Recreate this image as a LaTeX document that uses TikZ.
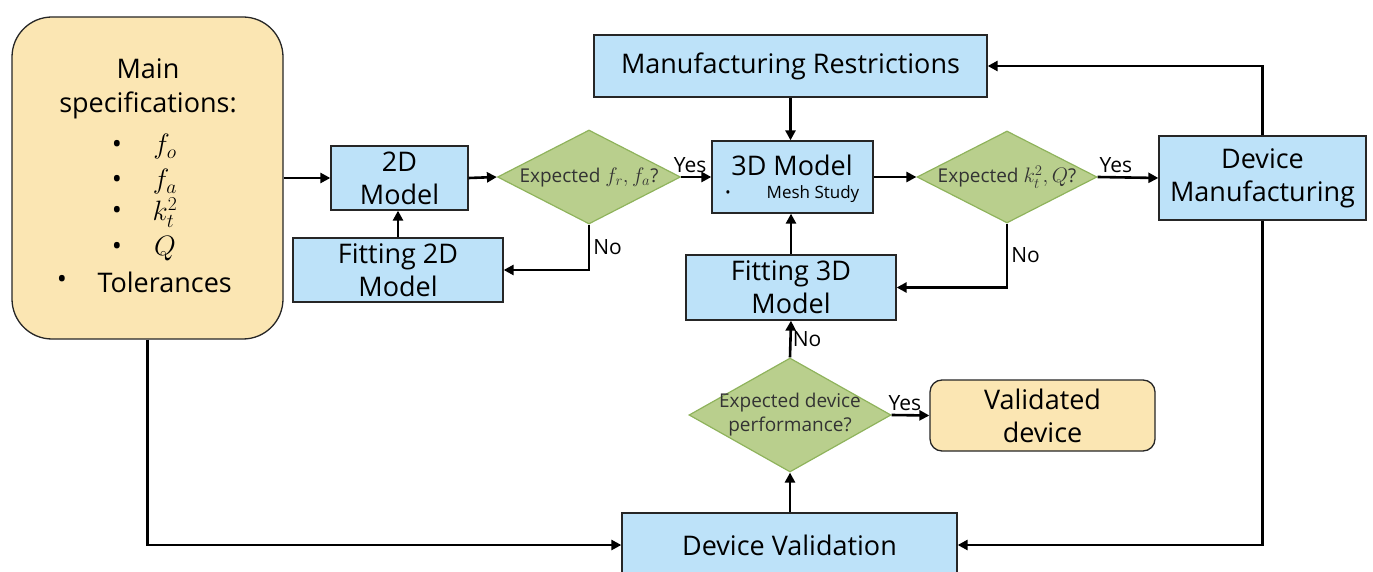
\documentclass[tikz,border=0pt]{standalone}
\usepackage{fix-cm}
\usepackage{fontspec}
\setmainfont{Open Sans}
\usetikzlibrary{arrows.meta,shapes.geometric}

\definecolor{boxblue}{HTML}{BDE2F9}
\definecolor{specyellow}{HTML}{FBE6B3}
\definecolor{decgreen}{HTML}{B9CF8D}
\definecolor{decline}{HTML}{8FB35C}

\newcommand{\bigtext}{\fontsize{27}{33}\selectfont}

\begin{document}
\begin{tikzpicture}[x=1pt,y=-1pt,
    stepbox/.style={draw=black!85,line width=1.3pt,fill=boxblue,inner sep=0pt,align=center,font=\bigtext},
    specbox/.style={draw=black!85,line width=1.3pt,fill=specyellow,rounded corners=40pt,inner sep=0pt},
    endbox/.style={draw=black!85,line width=1.3pt,fill=specyellow,rounded corners=12pt,inner sep=0pt,align=center,font=\bigtext},
    dec/.style={diamond,draw=decline,line width=1.2pt,fill=decgreen,inner sep=0pt},
    dectext/.style={align=center,text=black!80,font=\fontsize{19}{24}\selectfont},
    flow/.style={line width=2.6pt,-{Triangle[length=10pt,width=10pt]}},
    lbl/.style={font=\fontsize{21}{24}\selectfont,inner sep=3pt}]
    \useasboundingbox (0,0) rectangle (1373,572);

    % specification box
    \node[specbox,minimum width=271pt,minimum height=322pt] (spec) at (147.5,178) {};
    \node[align=center,font=\fontsize{27}{34}\selectfont] (spectop) at (148,89) {Main\\specifications:};
    \foreach \y/\t in {147/f_o,182/f_a,213/k_t^2,249/Q} {
        \node[font=\bigtext,inner sep=0pt] at (117,\y) {\textbullet};
        \node[font=\fontsize{28}{30}\selectfont,inner sep=0pt] at (165,\y) {$\t$};
    }
    \node[font=\bigtext] at (62,282) {\textbullet};
    \node[font=\bigtext,anchor=west] (tol) at (94,282) {Tolerances};

    % process boxes
    \node[stepbox,minimum width=137pt,minimum height=64pt] (m2d) at (399.5,178) {2D\\Model};
    \node[stepbox,minimum width=210pt,minimum height=64pt] (fit2d) at (398,270) {Fitting 2D\\Model};
    \node[stepbox,minimum width=393pt,minimum height=62pt] (restr) at (790.5,66) {Manufacturing Restrictions};
    \node[stepbox,minimum width=161pt,minimum height=72pt] (m3d) at (792.5,177) {};
    \node[font=\bigtext] (m3dtitle) at (792,165) {3D Model};
    \node[font=\fontsize{14}{16}\selectfont] at (728,194) {\textbullet};
    \node[font=\fontsize{17}{20}\selectfont] (mesh) at (813,194) {Mesh Study};
    \node[stepbox,minimum width=207pt,minimum height=84pt] (manu) at (1262.5,178) {Device\\Manufacturing};
    \node[stepbox,minimum width=210pt,minimum height=65pt] (fit3d) at (791,287.5) {Fitting 3D\\Model};
    \node[stepbox,minimum width=335pt,minimum height=64pt] (devval) at (789.5,545) {Device Validation};
    \node[endbox,minimum width=225pt,minimum height=71pt] (valid) at (1042.5,415.5) {Validated\\device};

    % decisions
    \node[dec,minimum width=183pt,minimum height=94pt] (d1) at (589,177) {};
    \node[dectext] at (d1) {Expected {\fontsize{21}{24}\selectfont$f_r, f_a$}?};
    \node[dec,minimum width=180pt,minimum height=92pt] (d2) at (1007,177) {};
    \node[dectext] at (d2) {Expected {\fontsize{21}{24}\selectfont$k_t^2, Q$}?};
    \node[dec,minimum width=202pt,minimum height=114pt] (d3) at (790,415) {};
    \node[dectext] at (d3) {Expected device\\performance?};

    % connectors
    \draw[flow] (spec.east) -- (m2d.west);
    \draw[flow] (m2d.east) -- (d1.west);
    \draw[flow] (d1.east) -- node[lbl,above,pos=0.3] {Yes} (m3d.west);
    \draw[flow] (d1.south) |- node[lbl,right,pos=0.25] {No} (fit2d.east);
    \draw[flow] (fit2d.north) -- (fit2d.north |- m2d.south);
    \draw[flow] (restr.south) -- (restr.south |- m3d.north);
    \draw[flow] (m3d.east) -- (d2.west);
    \draw[flow] (d2.east) -- node[lbl,above,pos=0.3] {Yes} (manu.west);
    \draw[flow] (d2.south) |- node[lbl,right,pos=0.25] {No} (fit3d.east);
    \draw[flow] (fit3d.north) -- (fit3d.north |- m3d.south);
    \draw[flow] (d3.north) -- node[lbl,right,inner sep=1pt] {No} (fit3d.south);
    \draw[flow] (d3.east) -- node[lbl,above,pos=0.35] {Yes} (valid.west);
    \draw[flow] (d3.south |- devval.north) -- (d3.south);
    \draw[flow] (manu.north) |- (restr.east);
    \draw[flow] (manu.south) |- (devval.east);
    \draw[flow] (spec.south) |- (devval.west);
\end{tikzpicture}
\end{document}
